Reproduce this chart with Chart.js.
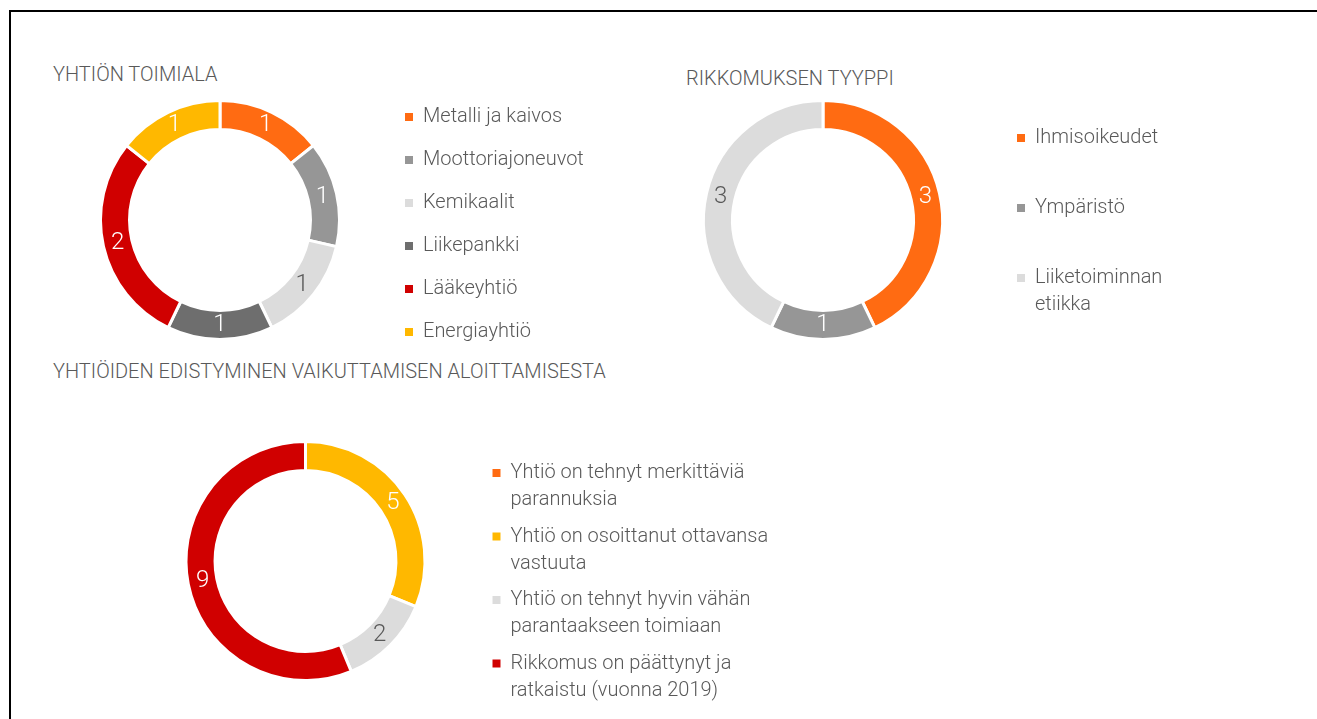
<!DOCTYPE html>
<html lang="fi">
<head>
<meta charset="utf-8">
<script src="https://cdn.jsdelivr.net/npm/chart.js@4/dist/chart.umd.min.js"></script>
<style>
  html, body { margin: 0; padding: 0; background: #fff; }
  body { width: 1317px; height: 719px; position: relative; overflow: hidden; font-family: Roboto, "Open Sans", sans-serif; }
  .frame { position: absolute; left: 9px; top: 10px; width: 2000px; height: 2000px; border-left: 2px solid #000; border-top: 2px solid #000; }
  .title { position: absolute; font-size: 20px; line-height: 20px; font-weight: 300; color: #595959; white-space: nowrap; }
  canvas { position: absolute; }
</style>
</head>
<body>
<div class="frame"></div>

<div class="title" style="left:53px; top:64px;">YHTIÖN TOIMIALA</div>
<div class="title" style="left:686px; top:68px;">RIKKOMUKSEN TYYPPI</div>
<div class="title" style="left:53px; top:361px;">YHTIÖIDEN EDISTYMINEN VAIKUTTAMISEN ALOITTAMISESTA</div>

<canvas id="sector" width="554" height="290" style="left:58px; top:75px;"></canvas>
<canvas id="violation" width="548" height="304" style="left:679px; top:68px;"></canvas>
<canvas id="progress" width="655" height="312" style="left:128px; top:405px;"></canvas>

<script>
// --- data ---
const sectorLabels = ["Metalli ja kaivos", "Moottoriajoneuvot", "Kemikaalit", "Liikepankki", "Lääkeyhtiö", "Energiayhtiö"];
const sectorCounts = [1, 1, 1, 1, 2, 1];

const violationLabels = ["Ihmisoikeudet", "Ympäristö", ["Liiketoiminnan", "etiikka"]];
const violationCounts = [3, 1, 3];

const progressLabels = [
  ["Yhtiö on tehnyt merkittäviä", "parannuksia"],
  ["Yhtiö on osoittanut ottavansa", "vastuuta"],
  ["Yhtiö on tehnyt hyvin vähän", "parantaakseen toimiaan"],
  ["Rikkomus on päättynyt ja", "ratkaistu (vuonna 2019)"],
];
const progressCounts = [0, 5, 2, 9];

// --- colours ---
const ORANGE = "#ff6b12", GRAY = "#969696", LIGHT = "#dcdcdc", DARK = "#6e6e6e", RED = "#d00000", YELLOW = "#ffb800";
const TEXT = "#595959";
const FONT = "Roboto, 'Open Sans', sans-serif";

// value labels drawn in the middle of each arc
const arcLabels = {
  id: "arcLabels",
  afterDatasetsDraw(chart) {
    const { ctx } = chart;
    const ds = chart.data.datasets[0];
    const meta = chart.getDatasetMeta(0);
    ctx.save();
    ctx.font = "300 24px " + FONT;
    ctx.textAlign = "center";
    ctx.textBaseline = "middle";
    meta.data.forEach((arc, i) => {
      if (!ds.data[i]) return;
      const p = arc.tooltipPosition(true);
      ctx.fillStyle = ds.backgroundColor[i] === LIGHT ? TEXT : "#fff";
      ctx.fillText(String(ds.data[i]), p.x, p.y);
    });
    ctx.restore();
  },
};

// fixed legend width so the ring lands where it should
function legendWidth(w) {
  return {
    id: "legendWidth",
    beforeInit(chart) {
      const fit = chart.legend.fit;
      chart.legend.fit = function () {
        fit.call(this);
        this.width = w;
      };
    },
  };
}

function makeDonut(id, labels, values, colors, legend) {
  const baseLabels = Chart.overrides.doughnut.plugins.legend.labels.generateLabels;
  return new Chart(document.getElementById(id), {
    type: "doughnut",
    data: {
      labels: labels,
      datasets: [{
        data: values,
        backgroundColor: colors,
        borderColor: "#fff",
        borderWidth: 3,
      }],
    },
    options: {
      responsive: false,
      animation: false,
      radius: 119.5,
      cutout: "75.7%",
      layout: { padding: 0 },
      plugins: {
        tooltip: { enabled: false },
        legend: {
          position: "right",
          align: legend.align,
          labels: {
            boxWidth: 8,
            boxHeight: 8,
            padding: legend.padding,
            color: TEXT,
            font: { family: FONT, size: 20, weight: 300, lineHeight: 1.35 },
            generateLabels: (chart) => baseLabels(chart).map((item) => ({ ...item, lineWidth: 0 })),
          },
        },
      },
    },
    plugins: [arcLabels, legendWidth(legend.width)],
  });
}

makeDonut("sector", sectorLabels, sectorCounts,
  [ORANGE, GRAY, LIGHT, DARK, RED, YELLOW],
  { align: "end", padding: 23, width: 230 });

makeDonut("violation", violationLabels, violationCounts,
  [ORANGE, GRAY, LIGHT],
  { align: "end", padding: 50, width: 260 });

makeDonut("progress", progressLabels, progressCounts,
  [ORANGE, YELLOW, LIGHT, RED],
  { align: "end", padding: 9.5, width: 300 });
</script>
</body>
</html>
